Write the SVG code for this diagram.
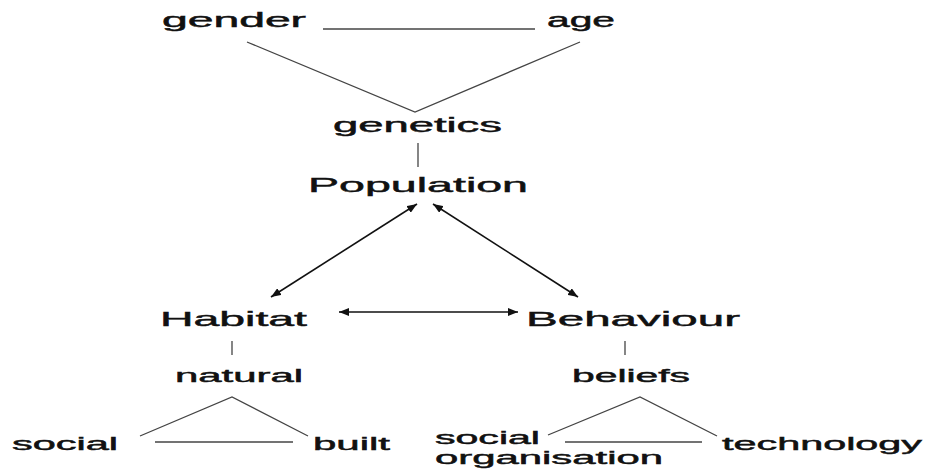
<svg xmlns="http://www.w3.org/2000/svg" width="926" height="472" viewBox="0 0 926 472">
<defs>
<marker id="ah" viewBox="0 0 10 8" refX="10" refY="4" markerWidth="10" markerHeight="8" markerUnits="userSpaceOnUse" orient="auto-start-reverse">
<path d="M0,0 L10,4 L0,8 z" fill="#111"/>
</marker>
</defs>
<style>
text{font-family:"Liberation Sans",Arial,sans-serif;fill:#111;stroke:#111;stroke-width:0.45;}
.big{font-size:21px;}
.mid{font-size:19.5px;}
.sm{font-size:18px;}
.ln{stroke:#444;stroke-width:1.3;fill:none;}
.ar{stroke:#111;stroke-width:1.6;fill:none;marker-start:url(#ah);marker-end:url(#ah);}
</style>
<rect width="926" height="472" fill="#fff"/>
<g id="connectors">
<line class="ln" x1="323" y1="29" x2="535" y2="29"/>
<polyline class="ln" points="247,42 415,112 580,42"/>
<line class="ln" x1="418" y1="143" x2="418" y2="167"/>
<line class="ar" x1="417" y1="204" x2="271" y2="297"/>
<line class="ar" x1="433" y1="204" x2="578" y2="297"/>
<line class="ar" x1="339" y1="312" x2="518" y2="312"/>
<line class="ln" x1="232" y1="341" x2="232" y2="355"/>
<polyline class="ln" points="140,436 232,397 308,436"/>
<line class="ln" x1="155" y1="442" x2="293" y2="442"/>
<line class="ln" x1="625" y1="341" x2="625" y2="355"/>
<polyline class="ln" points="548,435 640,397 717,436"/>
<line class="ln" x1="565" y1="442" x2="702" y2="442"/>
</g>
<g id="gender"><text class="mid" x="162" y="27" textLength="144" lengthAdjust="spacingAndGlyphs">gender</text></g>
<g id="age"><text class="mid" x="547" y="27" textLength="68" lengthAdjust="spacingAndGlyphs">age</text></g>
<g id="genetics"><text class="mid" x="333" y="132" textLength="169" lengthAdjust="spacingAndGlyphs">genetics</text></g>
<g id="population"><text class="big" x="308" y="192" textLength="220" lengthAdjust="spacingAndGlyphs">Population</text></g>
<g id="habitat"><text class="big" x="160" y="326" textLength="147" lengthAdjust="spacingAndGlyphs">Habitat</text></g>
<g id="behaviour"><text class="big" x="526" y="326" textLength="214" lengthAdjust="spacingAndGlyphs">Behaviour</text></g>
<g id="natural"><text class="sm" x="175" y="382" textLength="128" lengthAdjust="spacingAndGlyphs">natural</text></g>
<g id="beliefs"><text class="sm" x="572" y="382" textLength="118" lengthAdjust="spacingAndGlyphs">beliefs</text></g>
<g id="social"><text class="sm" x="12" y="450" textLength="106" lengthAdjust="spacingAndGlyphs">social</text></g>
<g id="built"><text class="sm" x="313" y="450" textLength="77" lengthAdjust="spacingAndGlyphs">built</text></g>
<g id="social-organisation">
<text class="sm" x="435" y="444" textLength="105" lengthAdjust="spacingAndGlyphs">social</text>
<text class="sm" x="435" y="464" textLength="228" lengthAdjust="spacingAndGlyphs">organisation</text>
</g>
<g id="technology"><text class="sm" x="722" y="450" textLength="200" lengthAdjust="spacingAndGlyphs">technology</text></g>
</svg>
